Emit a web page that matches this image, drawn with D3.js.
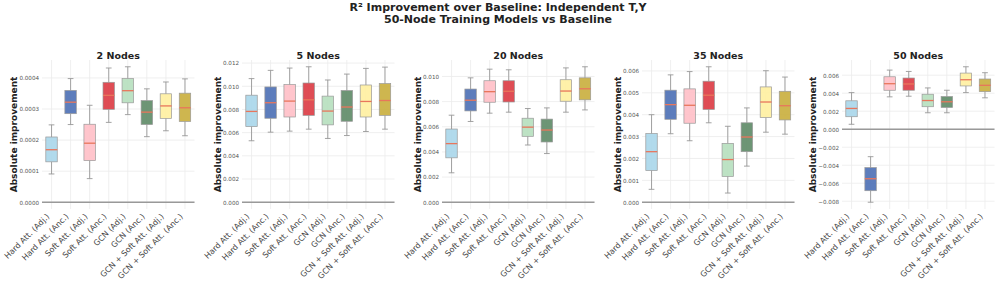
<!DOCTYPE html>
<html>
<head>
<meta charset="utf-8">
<script src="https://cdn.jsdelivr.net/npm/d3@7"></script>
<style>
  body { margin: 0; background: #fff; }
  text { font-family: "DejaVu Sans", sans-serif; }
</style>
</head>
<body>
<script>
const width = 996;
const height = 284;

const models = ["Hard Att. (Adj.)", "Hard Att. (Anc.)", "Soft Att. (Adj.)", "Soft Att. (Anc.)",
  "GCN (Adj.)", "GCN (Anc.)", "GCN + Soft Att. (Adj.)", "GCN + Soft Att. (Anc.)"];
const modelColors = ["#a9d6ea", "#4b6fb5", "#ffbfc6", "#dc3a43", "#b6dfbe", "#5d8a66", "#fff0a0", "#c9ae3c"];

const panelTitles = ["2 Nodes", "5 Nodes", "20 Nodes", "35 Nodes", "50 Nodes"];

// [whisker low, q1, median, q3, whisker high] for each model
const stats2 = [
  [0.000091, 0.000130, 0.000169, 0.000210, 0.000249],
  [0.000250, 0.000285, 0.000322, 0.000360, 0.000398],
  [0.000076, 0.000134, 0.000190, 0.000251, 0.000312],
  [0.000257, 0.000299, 0.000344, 0.000386, 0.000432],
  [0.000282, 0.000320, 0.000359, 0.000398, 0.000436],
  [0.000211, 0.000250, 0.000290, 0.000327, 0.000365],
  [0.000230, 0.000270, 0.000310, 0.000349, 0.000387],
  [0.000214, 0.000260, 0.000304, 0.000351, 0.000397]
];
const stats5 = [
  [0.00530, 0.00652, 0.00783, 0.00923, 0.01066],
  [0.00604, 0.00724, 0.00858, 0.00994, 0.01137],
  [0.00613, 0.00735, 0.00872, 0.01014, 0.01157],
  [0.00630, 0.00749, 0.00883, 0.01028, 0.01168],
  [0.00550, 0.00667, 0.00786, 0.00915, 0.01054],
  [0.00575, 0.00698, 0.00821, 0.00963, 0.01105],
  [0.00610, 0.00735, 0.00869, 0.01011, 0.01154],
  [0.00630, 0.00749, 0.00877, 0.01023, 0.01165]
];
const stats20 = [
  [0.00234, 0.00353, 0.00466, 0.00582, 0.00692],
  [0.00642, 0.00726, 0.00811, 0.00900, 0.00989],
  [0.00708, 0.00795, 0.00879, 0.00966, 0.01058],
  [0.00716, 0.00797, 0.00882, 0.00966, 0.01053],
  [0.00455, 0.00524, 0.00597, 0.00668, 0.00745],
  [0.00387, 0.00479, 0.00574, 0.00661, 0.00750],
  [0.00716, 0.00803, 0.00884, 0.00974, 0.01068],
  [0.00734, 0.00814, 0.00902, 0.00989, 0.01077]
];
const stats35 = [
  [0.00059, 0.00145, 0.00231, 0.00314, 0.00400],
  [0.00313, 0.00379, 0.00446, 0.00512, 0.00582],
  [0.00281, 0.00361, 0.00443, 0.00518, 0.00597],
  [0.00363, 0.00424, 0.00489, 0.00553, 0.00619],
  [0.00042, 0.00118, 0.00195, 0.00269, 0.00347],
  [0.00165, 0.00231, 0.00298, 0.00363, 0.00431],
  [0.00320, 0.00387, 0.00458, 0.00527, 0.00601],
  [0.00311, 0.00376, 0.00441, 0.00507, 0.00572]
];
const stats50 = [
  [0.00055, 0.00139, 0.00231, 0.00316, 0.00407],
  [-0.00811, -0.00683, -0.00550, -0.00426, -0.00305],
  [0.00360, 0.00433, 0.00506, 0.00583, 0.00657],
  [0.00367, 0.00433, 0.00503, 0.00569, 0.00642],
  [0.00183, 0.00250, 0.00319, 0.00389, 0.00459],
  [0.00183, 0.00242, 0.00305, 0.00363, 0.00433],
  [0.00407, 0.00481, 0.00550, 0.00624, 0.00694],
  [0.00349, 0.00418, 0.00488, 0.00558, 0.00628]
];
const panelStats = [stats2, stats5, stats20, stats35, stats50];

const ticks2 = [0, 0.0001, 0.0002, 0.0003, 0.0004];
const ticks5 = [0, 0.002, 0.004, 0.006, 0.008, 0.010, 0.012];
const ticks20 = [0, 0.002, 0.004, 0.006, 0.008, 0.010];
const ticks35 = [0, 0.001, 0.002, 0.003, 0.004, 0.005, 0.006];
const ticks50 = [-0.008, -0.006, -0.004, -0.002, 0, 0.002, 0.004, 0.006];
const panelTicks = [ticks2, ticks5, ticks20, ticks35, ticks50];
const tickFormats = [".4f", ".3f", ".3f", ".3f", ".3f"];

let svg = d3.select("body").append("svg")
  .attr("width", width)
  .attr("height", height);

svg.append("text")
  .attr("x", 498).attr("y", 10.5)
  .attr("text-anchor", "middle")
  .style("font-size", "11px").style("font-weight", "bold").style("fill", "#222")
  .text("R² Improvement over Baseline: Independent T,Y");
svg.append("text")
  .attr("x", 498).attr("y", 22.5)
  .attr("text-anchor", "middle")
  .style("font-size", "11px").style("font-weight", "bold").style("fill", "#222")
  .text("50-Node Training Models vs Baseline");

const plotTop = 60, plotBottom = 209, plotW = 152.5;

panelStats.forEach(function(stats, p) {
  let left = 42 + p * 200;
  let g = svg.append("g");

  let lo = Math.min(0, d3.min(stats, d => d[0]));
  let hi = Math.max(0, d3.max(stats, d => d[4]));
  let pad = (hi - lo) * 0.05;

  let x = d3.scaleBand().domain(models).range([left, left + plotW]);
  let y = d3.scaleLinear().domain([lo - pad, hi + pad]).range([plotBottom, plotTop]);
  let bw = x.bandwidth() * 0.6;
  let cx = d => x(d) + x.bandwidth() / 2;

  // grid
  g.selectAll(".hgrid").data(panelTicks[p]).enter().append("line")
    .attr("x1", left).attr("x2", left + plotW)
    .attr("y1", d => y(d)).attr("y2", d => y(d))
    .attr("stroke", "#ebebeb").attr("stroke-width", 0.8);
  g.selectAll(".vgrid").data(models).enter().append("line")
    .attr("x1", cx).attr("x2", cx)
    .attr("y1", plotTop).attr("y2", plotBottom)
    .attr("stroke", "#ebebeb").attr("stroke-width", 0.8);

  // zero line
  g.append("line")
    .attr("x1", left).attr("x2", left + plotW)
    .attr("y1", y(0)).attr("y2", y(0))
    .attr("stroke", "#999").attr("stroke-width", 1.5);

  // y axis
  let yAxis = g.append("g")
    .attr("transform", "translate(" + left + ",0)")
    .call(d3.axisLeft(y).tickValues(panelTicks[p]).tickFormat(d3.format(tickFormats[p])).tickSize(0).tickPadding(3));
  yAxis.select(".domain").remove();
  yAxis.selectAll("text").style("font-size", "5.6px").style("fill", "#555")
    .style("font-family", "DejaVu Sans, sans-serif");
  let maxW = d3.max(yAxis.selectAll("text").nodes(), n => n.getBBox().width);

  g.append("text")
    .attr("transform", "translate(" + (left - 3 - maxW - 2) + "," + ((plotTop + plotBottom) / 2) + ") rotate(-90)")
    .attr("text-anchor", "middle")
    .style("font-size", "9px").style("font-weight", "bold").style("fill", "#222")
    .text("Absolute improvement");

  // panel title
  g.append("text")
    .attr("x", left + plotW / 2).attr("y", 59)
    .attr("text-anchor", "middle")
    .style("font-size", "9.5px").style("font-weight", "bold").style("fill", "#222")
    .text(panelTitles[p]);

  // boxes
  let boxes = g.selectAll(".box").data(stats).enter().append("g");
  boxes.append("line")
    .attr("x1", (d, i) => cx(models[i])).attr("x2", (d, i) => cx(models[i]))
    .attr("y1", d => y(d[0])).attr("y2", d => y(d[1]))
    .attr("stroke", "#999").attr("stroke-width", 0.9);
  boxes.append("line")
    .attr("x1", (d, i) => cx(models[i])).attr("x2", (d, i) => cx(models[i]))
    .attr("y1", d => y(d[3])).attr("y2", d => y(d[4]))
    .attr("stroke", "#999").attr("stroke-width", 0.9);
  [0, 4].forEach(function(k) {
    boxes.append("line")
      .attr("x1", (d, i) => cx(models[i]) - bw / 4).attr("x2", (d, i) => cx(models[i]) + bw / 4)
      .attr("y1", d => y(d[k])).attr("y2", d => y(d[k]))
      .attr("stroke", "#999").attr("stroke-width", 0.9);
  });
  boxes.append("rect")
    .attr("x", (d, i) => cx(models[i]) - bw / 2)
    .attr("width", bw)
    .attr("y", d => y(d[3]))
    .attr("height", d => y(d[1]) - y(d[3]))
    .style("fill", (d, i) => modelColors[i])
    .style("fill-opacity", 0.9)
    .attr("stroke", "#999").attr("stroke-width", 0.7);
  boxes.append("line")
    .attr("x1", (d, i) => cx(models[i]) - bw / 2).attr("x2", (d, i) => cx(models[i]) + bw / 2)
    .attr("y1", d => y(d[2])).attr("y2", d => y(d[2]))
    .attr("stroke", "#e8765c").attr("stroke-width", 1.3);

  // x labels
  g.selectAll(".xlab").data(models).enter().append("text")
    .attr("transform", d => "translate(" + (cx(d) - 1.5) + "," + 217 + ") rotate(-45)")
    .attr("text-anchor", "end")
    .style("font-size", "8px").style("fill", "#444")
    .text(d => d);
});
</script>
</body>
</html>
